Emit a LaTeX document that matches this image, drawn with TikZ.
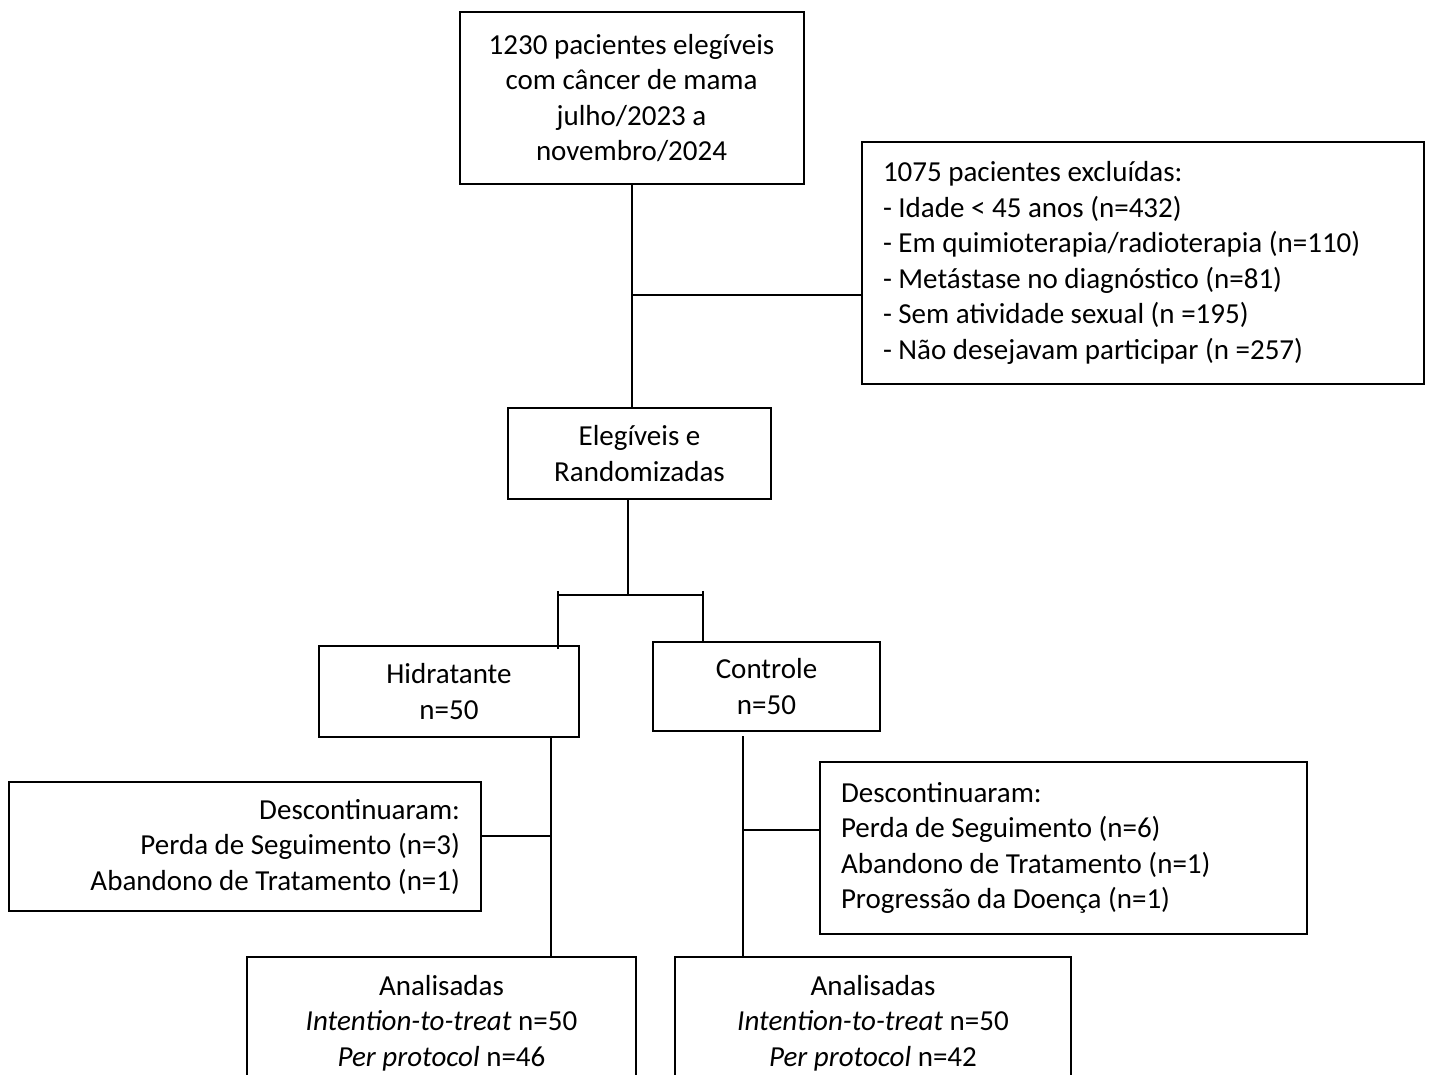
\documentclass[tikz,border=0pt]{standalone}
\usepackage{fontspec}
\setmainfont{Carlito}
\begin{document}
\begin{tikzpicture}[x=0.5pt,y=-0.5pt,
	box_node/.style={draw,line width=1pt,inner sep=0pt,align=center,font=\fontsize{14.5}{17.75}\selectfont},
	list_node/.style={box_node,inner xsep=10.5pt,inner ysep=0pt,align=flush left},
	link/.style={line width=1pt}]

		\useasboundingbox (0,0) rectangle (1432,1075);
		\clip (0,0) rectangle (1432,1075);

		\node[box_node,minimum width=172pt,minimum height=86pt] (total) at (631.5,98) {1230 pacientes elegíveis\\com câncer de mama\\julho/2023 a\\novembro/2024};
		\node[list_node,text width=260pt,minimum height=121pt] (excl) at (1143,263) {1075 pacientes excluídas:\\- Idade < 45 anos (n=432)\\- Em quimioterapia/radioterapia (n=110)\\- Metástase no diagnóstico (n=81)\\- Sem atividade sexual (n =195)\\- Não desejavam participar (n =257)};
		\node[box_node,minimum width=131.5pt,minimum height=45.5pt] (rand) at (639.5,453.5) {Elegíveis e\\Randomizadas};
		\node[box_node,minimum width=130pt,minimum height=45.5pt] (hid) at (449,691.5) {Hidratante\\n=50};
		\node[box_node,minimum width=113.5pt,minimum height=44.5pt] (ctrl) at (766.5,686.5) {Controle\\n=50};
		\node[list_node,text width=215pt,minimum height=64.5pt,align=flush right] (descL) at (245,846.5) {Descontinuaram:\\Perda de Seguimento (n=3)\\Abandono de Tratamento (n=1)};
		\node[list_node,text width=222.5pt,minimum height=86pt] (descR) at (1063.5,848) {Descontinuaram:\\Perda de Seguimento (n=6)\\Abandono de Tratamento (n=1)\\Progressão da Doença (n=1)};
		\node[box_node,minimum width=194.5pt,minimum height=66pt] (anaL) at (441.5,1023) {Analisadas\\\textit{Intention-to-treat} n=50\\\textit{Per protocol} n=46};
		\node[box_node,minimum width=198pt,minimum height=66pt] (anaR) at (873,1023) {Analisadas\\\textit{Intention-to-treat} n=50\\\textit{Per protocol} n=42};

		\coordinate (j1) at (632,295);
		\coordinate (split) at (628,595);
		\coordinate (tl) at (558,591);
		\coordinate (tr) at (703,591);
		\coordinate (jl) at (551,836);
		\coordinate (jr) at (743,830);

		\draw[link] (total.south -| j1) -- (j1 |- rand.north);
		\draw[link] (j1) -- (j1 -| excl.west);
		\draw[link] (rand.south -| split) -- (split);
		\draw[link] (split -| tl) -- (split -| tr);
		\draw[link] (tl) -- ([yshift=-2pt]tl |- hid.north);
		\draw[link] (tr) -- (tr |- ctrl.north);
		\draw[link] (jl |- hid.south) -- (jl |- anaL.north);
		\draw[link] (descL.east |- jl) -- (jl);
		\draw[link] ([yshift=-2pt]jr |- ctrl.south) -- (jr |- anaR.north);
		\draw[link] (jr) -- (jr -| descR.west);
		\end{tikzpicture}
\end{document}
